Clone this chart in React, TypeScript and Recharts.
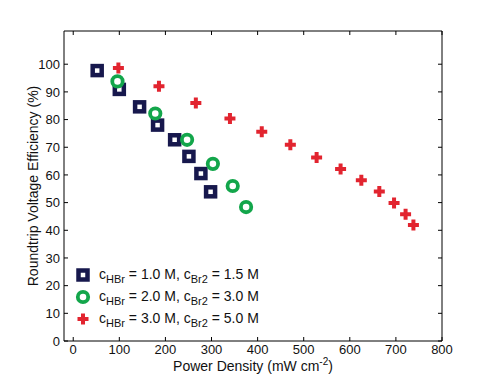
import { ScatterChart, Scatter, XAxis, YAxis, Legend } from 'recharts';

// power density (mW cm^-2) and roundtrip voltage efficiency (%)
const lowX = [52, 100, 144, 183, 220, 251, 277, 298];
const lowY = [97.7, 90.9, 84.6, 78.0, 72.7, 66.7, 60.5, 53.9];
const midX = [96, 178, 247, 303, 346, 375];
const midY = [93.8, 82.2, 72.7, 64.0, 56.0, 48.4];
const highX = [98, 186, 266, 340, 409, 471, 528, 580, 625, 664, 696, 721, 738];
const highY = [98.6, 92.0, 86.0, 80.4, 75.6, 70.9, 66.3, 62.1, 58.1, 54.0, 49.9, 45.8, 41.9];

const xTicks = [0, 100, 200, 300, 400, 500, 600, 700, 800];
const yTicks = [0, 10, 20, 30, 40, 50, 60, 70, 80, 90, 100];

const NAVY = '#17184d';
const GREEN = '#13a64b';
const RED = '#e2242f';
const FONT = '"Liberation Sans", Arial, Helvetica, sans-serif';
const TL = 4; // inward tick length
const GAP = 4; // axis line to tick label

const zip = (xs: number[], ys: number[]) => xs.map((x, i) => ({ x, y: ys[i] }));

type Kind = 'square' | 'circle' | 'cross';

function Marker({ kind, cx, cy }: { kind: Kind; cx: number; cy: number }) {
  if (kind === 'square')
    return <rect x={cx - 4.5} y={cy - 4.5} width={9} height={9} fill="#fff" stroke={NAVY} strokeWidth={4.5} />;
  if (kind === 'circle')
    return <circle cx={cx} cy={cy} r={5.2} fill="#fff" stroke={GREEN} strokeWidth={3.8} />;
  return (
    <path
      d={`M${cx - 2} ${cy - 5.5}h4v3.5h3.5v4h-3.5v3.5h-4v-3.5h-3.5v-4h3.5z`}
      fill={RED}
    />
  );
}

const series = [
  { kind: 'square' as Kind, data: zip(lowX, lowY), hbr: '1.0', br2: '1.5' },
  { kind: 'circle' as Kind, data: zip(midX, midY), hbr: '2.0', br2: '3.0' },
  { kind: 'cross' as Kind, data: zip(highX, highY), hbr: '3.0', br2: '5.0' },
];

function LegendBox() {
  const sub = { fontSize: 11, verticalAlign: -4 };
  return (
    <div style={{ fontFamily: FONT, fontSize: 14, color: '#111' }}>
      {series.map(s => (
        <div key={s.kind} style={{ display: 'flex', alignItems: 'center', height: 22 }}>
          <svg width={18} height={18} style={{ marginRight: 7 }}>
            <Marker kind={s.kind} cx={9} cy={9} />
          </svg>
          <span style={{ whiteSpace: 'nowrap' }}>
            c<sub style={sub}>HBr</sub> = {s.hbr} M, c<sub style={sub}>Br2</sub> = {s.br2} M
          </span>
        </div>
      ))}
    </div>
  );
}

// tick label plus an inward tick mark
function BottomTick(p: any) {
  const axisY = p.y - GAP;
  return (
    <g>
      <line x1={p.x} x2={p.x} y1={axisY} y2={axisY - TL} stroke="#000" />
      <text x={p.x} y={p.y} dy="0.71em" textAnchor="middle" fontSize={13} fontFamily={FONT} fill="#111">
        {p.payload.value}
      </text>
    </g>
  );
}
function LeftTick(p: any) {
  const axisX = p.x + GAP;
  return (
    <g>
      <line x1={axisX} x2={axisX + TL} y1={p.y} y2={p.y} stroke="#000" />
      <text x={p.x} y={p.y} dy="0.355em" textAnchor="end" fontSize={13} fontFamily={FONT} fill="#111">
        {p.payload.value}
      </text>
    </g>
  );
}
function TopTick(p: any) {
  const axisY = p.y + GAP;
  return <line x1={p.x} x2={p.x} y1={axisY} y2={axisY + TL} stroke="#000" />;
}
function RightTick(p: any) {
  const axisX = p.x - GAP;
  return <line x1={axisX} x2={axisX - TL} y1={p.y} y2={p.y} stroke="#000" />;
}

export default function App() {
  return (
    <div style={{ position: 'absolute', left: 0, top: 0, background: '#fff' }}>
      <ScatterChart width={490} height={390} margin={{ top: 30, right: 47, bottom: 0, left: 0 }}>
        <XAxis
          type="number"
          dataKey="x"
          domain={[-20, 800]}
          ticks={xTicks}
          allowDataOverflow
          stroke="#000"
          tickLine={false}
          tickSize={0}
          tickMargin={GAP}
          height={49}
          tick={BottomTick}
          label={({ viewBox }: any) => (
            <text
              x={viewBox.x + viewBox.width / 2}
              y={viewBox.y + 30}
              textAnchor="middle"
              fontSize={14}
              fontFamily={FONT}
              fill="#111"
            >
              Power Density (mW cm<tspan dy={-6} fontSize={10}>-2</tspan>
              <tspan dy={6}>)</tspan>
            </text>
          )}
        />
        <XAxis
          xAxisId="top"
          orientation="top"
          type="number"
          dataKey="x"
          domain={[-20, 800]}
          ticks={xTicks}
          allowDataOverflow
          stroke="#000"
          tickLine={false}
          tickSize={0}
          tickMargin={GAP}
          tick={TopTick}
          height={1}
        />
        <YAxis
          type="number"
          dataKey="y"
          domain={[0, 112]}
          ticks={yTicks}
          allowDataOverflow
          stroke="#000"
          tickLine={false}
          tickSize={0}
          tickMargin={GAP}
          width={64}
          tick={LeftTick}
          label={({ viewBox }: any) => {
            const cy = viewBox.y + viewBox.height / 2;
            return (
              <text
                x={33}
                y={cy}
                transform={`rotate(-90 33 ${cy})`}
                dy="0.35em"
                textAnchor="middle"
                fontSize={14}
                fontFamily={FONT}
                fill="#111"
              >
                Roundtrip Voltage Efficiency (%)
              </text>
            );
          }}
        />
        <YAxis
          yAxisId="right"
          orientation="right"
          type="number"
          dataKey="y"
          domain={[0, 112]}
          ticks={yTicks}
          allowDataOverflow
          stroke="#000"
          tickLine={false}
          tickSize={0}
          tickMargin={GAP}
          tick={RightTick}
          width={1}
        />
        <Legend
          layout="vertical"
          align="center"
          verticalAlign="middle"
          wrapperStyle={{ left: 74, top: 264, width: 230 }}
          content={() => <LegendBox />}
        />
        {series.map(s => (
          <Scatter
            key={s.kind}
            data={s.data}
            isAnimationActive={false}
            shape={(p: any) => <Marker kind={s.kind} cx={p.cx} cy={p.cy} />}
          />
        ))}
        {/* binds the mirrored frame axes so they get drawn */}
        <Scatter
          xAxisId="top"
          yAxisId="right"
          data={series[0].data}
          isAnimationActive={false}
          legendType="none"
          shape={() => <g />}
        />
      </ScatterChart>
    </div>
  );
}
